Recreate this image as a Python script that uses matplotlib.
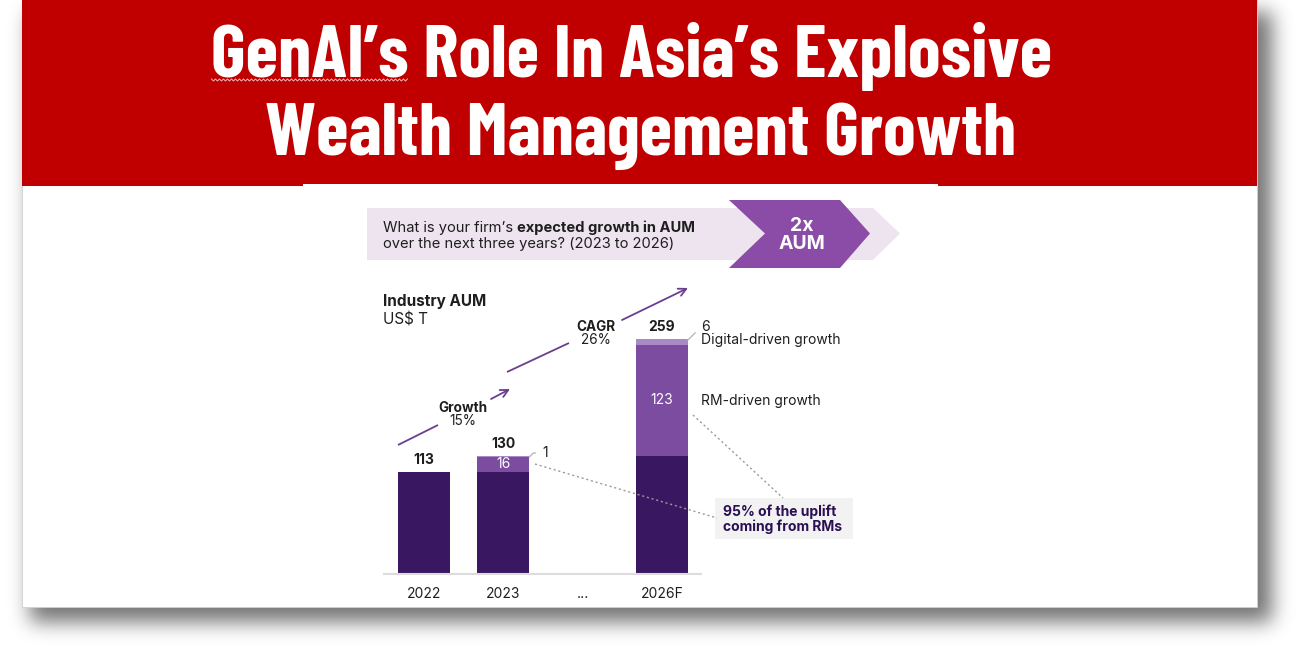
import numpy as np
import matplotlib
matplotlib.use("Agg")
import matplotlib.pyplot as plt
from matplotlib.patches import Polygon, Rectangle
from matplotlib.lines import Line2D

# ---------------- data ----------------
categories = ['2022', '2023', '...', '2026F']
base_aum = [113, 113, np.nan, 130]
rm_growth = [0, 16, np.nan, 123]
digital_growth = [0, 1, np.nan, 6]
totals = [113, 130, np.nan, 259]
rm_labels = ['', '16', '', '123']
digital_labels = ['', '1', '', '6']

title_lines = ["GenAI\u2019s Role In Asia\u2019s Explosive", "Wealth Management Growth"]

# ---------------- style ----------------
F = ['Inter', 'DejaVu Sans']
TF = ['Barlow Condensed', 'DejaVu Sans']

DARK = '#3A1761'
MID = '#7B4C9F'
LIGHT = '#A88BC4'
ARROW = '#6A3F90'
TXT = '#1E1E1E'

fig = plt.figure(figsize=(13, 6.5), dpi=100)
fig.patch.set_facecolor('white')
bg = fig.add_axes([0, 0, 1, 1])
bg.set_xlim(0, 1300)
bg.set_ylim(650, 0)
bg.axis('off')
r = fig.canvas.get_renderer()

# ---- card shadow (blurred rectangle) ----
H, W = 650, 1300
mask = np.zeros((H, W))
mask[12:622, 30:1272] = 1.0
sig = 10
k = np.exp(-0.5 * (np.arange(-3 * sig, 3 * sig + 1) / sig) ** 2)
k /= k.sum()
mask = np.apply_along_axis(lambda m: np.convolve(m, k, mode='same'), 0, mask)
mask = np.apply_along_axis(lambda m: np.convolve(m, k, mode='same'), 1, mask)
rgba = np.zeros((H, W, 4))
rgba[..., 3] = mask * 0.55
bg.imshow(rgba, extent=(0, 1300, 650, 0), zorder=0, interpolation='bilinear', aspect='auto')

# ---- card ----
bg.add_patch(Rectangle((22, 0), 1235, 607, facecolor='white', edgecolor='#d0d0d0', lw=0.6, zorder=1))
bg.add_patch(Rectangle((22, 0), 1235, 186, facecolor='#C00000', edgecolor='none', zorder=2))
bg.add_patch(Rectangle((303, 183.5), 635, 3, facecolor='white', edgecolor='none', zorder=3))

# ---- title ----
tsize = 47
tt1 = bg.text(632, 77, title_lines[0], ha='center', va='baseline', color='white',
              fontsize=tsize, fontweight='bold', family=TF, zorder=4)
tt2 = bg.text(641, 155, title_lines[1], ha='center', va='baseline', color='white',
              fontsize=tsize, fontweight='bold', family=TF, zorder=4)
w1 = tt1.get_window_extent(r).width
tsize = tsize * 842.0 / w1
tt1.set_fontsize(tsize)
tt2.set_fontsize(tsize)
b1 = tt1.get_window_extent(r)
tmp = bg.text(0, 0, "GenAI\u2019s", fontsize=tsize, fontweight='bold', family=TF)
wg = tmp.get_window_extent(r).width
tmp.remove()
zx = np.arange(b1.x0, b1.x0 + wg, 2.0)
zy = 80 + np.where((np.arange(len(zx)) % 2) == 0, -1.0, 1.0)
bg.plot(zx, zy, color='#F3B8B8', lw=0.7, zorder=4)

# ---- question banner ----
bg.add_patch(Polygon([(367, 208), (873, 208), (900, 233.5), (873, 260), (367, 260)],
                     closed=True, facecolor='#EEE4F0', edgecolor='none', zorder=2))
bg.add_patch(Polygon([(729, 200), (840, 200), (870, 233.5), (840, 268), (729, 268), (765, 233.5)],
                     closed=True, facecolor='#8A4CA6', edgecolor='none', zorder=3))
bg.text(802, 226, '2x', ha='center', va='center', color='white', fontsize=14,
        fontweight='bold', family=F, zorder=4)
bg.text(802, 244, 'AUM', ha='center', va='center', color='white', fontsize=14,
        fontweight='bold', family=F, zorder=4)

t1 = bg.text(383, 232, 'What is your firm\u2019s ', ha='left', va='baseline', color=TXT,
             fontsize=10.6, family=F, zorder=4)
bb = t1.get_window_extent(r)
bg.text(bb.x1, 232, 'expected growth in AUM', ha='left', va='baseline', color=TXT,
        fontsize=10.6, fontweight='bold', family=F, zorder=4)
bg.text(383, 248, 'over the next three years? (2023 to 2026)', ha='left', va='baseline',
        color=TXT, fontsize=10.6, family=F, zorder=4)

# ---- chart heading ----
bg.text(383, 306, 'Industry AUM', ha='left', va='baseline', color=TXT, fontsize=11,
        fontweight='bold', family=F, zorder=4)
bg.text(383, 324, 'US$ T', ha='left', va='baseline', color=TXT, fontsize=11,
        family=F, zorder=4)

# ---- growth arrows ----
def seg(p0, p1, head=False):
    if head:
        bg.annotate('', xy=p1, xytext=p0, zorder=4,
                    arrowprops=dict(arrowstyle='->,head_length=0.55,head_width=0.28',
                                    color=ARROW, lw=1.3, shrinkA=0, shrinkB=0))
    else:
        bg.plot([p0[0], p1[0]], [p0[1], p1[1]], color=ARROW, lw=1.3, zorder=4,
                solid_capstyle='butt')

seg((398, 445), (438, 425))
seg((491, 399), (510, 389), head=True)
seg((507, 372), (569, 343))
seg((622, 320), (688, 288), head=True)
bg.text(463, 412, 'Growth', ha='center', va='baseline', color=TXT, fontsize=9.8,
        fontweight='bold', family=F, zorder=4)
bg.text(463, 425, '15%', ha='center', va='baseline', color=TXT, fontsize=9.8,
        family=F, zorder=4)
bg.text(596, 331, 'CAGR', ha='center', va='baseline', color=TXT, fontsize=9.8,
        fontweight='bold', family=F, zorder=4)
bg.text(596, 344, '26%', ha='center', va='baseline', color=TXT, fontsize=9.8,
        family=F, zorder=4)

# ---- chart axes ----
px_left, px_right, px_base, px_top = 384, 701, 574, 300
ax = fig.add_axes([px_left / 1300, 1 - px_base / 650, (px_right - px_left) / 1300,
                   (px_base - px_top) / 650])
ax.set_zorder(5)
ax.patch.set_alpha(0)
spacing = (662 - 424) / 3.0
x = np.arange(len(categories))
ax.set_xlim((px_left - 424) / spacing, (px_right - 424) / spacing)
ax.set_ylim(0, (px_base - px_top) / 0.907)
w = 52 / spacing

base = np.array(base_aum, dtype=float)
rm = np.array(rm_growth, dtype=float)
dg = np.array(digital_growth, dtype=float)
ax.bar(x, base, width=w, color=DARK, edgecolor='none')
ax.bar(x, rm, width=w, bottom=base, color=MID, edgecolor='none')
ax.bar(x, dg, width=w, bottom=base + rm, color=LIGHT, edgecolor='none')

for s in ['top', 'right', 'left']:
    ax.spines[s].set_visible(False)
ax.spines['bottom'].set_color('#dcdcdc')
ax.spines['bottom'].set_linewidth(1.5)
ax.set_yticks([])
ax.set_xticks(x)
ax.set_xticklabels(categories, family=F, fontsize=10, color=TXT)
ax.tick_params(axis='x', length=0, pad=9)

label_offsets = {1: (13, 4), 3: (13, 13)}
for i, tot in enumerate(totals):
    if np.isnan(tot):
        continue
    ax.annotate(f'{tot:g}', xy=(x[i], tot), xytext=(0, 8), textcoords='offset pixels',
                ha='center', va='baseline', fontsize=10, fontweight='bold', color=TXT,
                family=F)
    if rm_labels[i]:
        ax.text(x[i], base[i] + rm[i] / 2, rm_labels[i], ha='center', va='center',
                color='white', fontsize=10, family=F)
    if digital_labels[i]:
        top = base[i] + rm[i] + dg[i]
        ax.annotate(digital_labels[i], xy=(x[i] + w / 2, top - 1),
                    xytext=label_offsets[i], textcoords='offset pixels', ha='left',
                    va='center', fontsize=10, color=TXT, family=F,
                    arrowprops=dict(arrowstyle='-', color='#b8b8b8', lw=1,
                                    connectionstyle='angle,angleA=0,angleB=45,rad=0',
                                    shrinkA=3, shrinkB=0))

# right side labels
bg.text(701, 344, 'Digital-driven growth', ha='left', va='baseline', color=TXT,
        fontsize=10, family=F, zorder=6)
bg.text(701, 405, 'RM-driven growth', ha='left', va='baseline', color=TXT,
        fontsize=10, family=F, zorder=6)

# callout (drawn above the bars)
for xs, ys in [([535, 717], [464, 518]), ([693, 783], [415, 498])]:
    fig.add_artist(Line2D(xs, ys, transform=bg.transData, color='#9a9a9a', lw=1,
                          ls=(0, (1.5, 2)), zorder=10))
bg.add_patch(Rectangle((715, 498), 138, 41, facecolor='#F2F2F2', edgecolor='none', zorder=6))
bg.text(723, 516, '95% of the uplift', ha='left', va='baseline', color='#2A1052',
        fontsize=10, fontweight='bold', family=F, zorder=7)
bg.text(723, 531, 'coming from RMs', ha='left', va='baseline', color='#2A1052',
        fontsize=10, fontweight='bold', family=F, zorder=7)

fig.savefig('out.png', dpi=100)
